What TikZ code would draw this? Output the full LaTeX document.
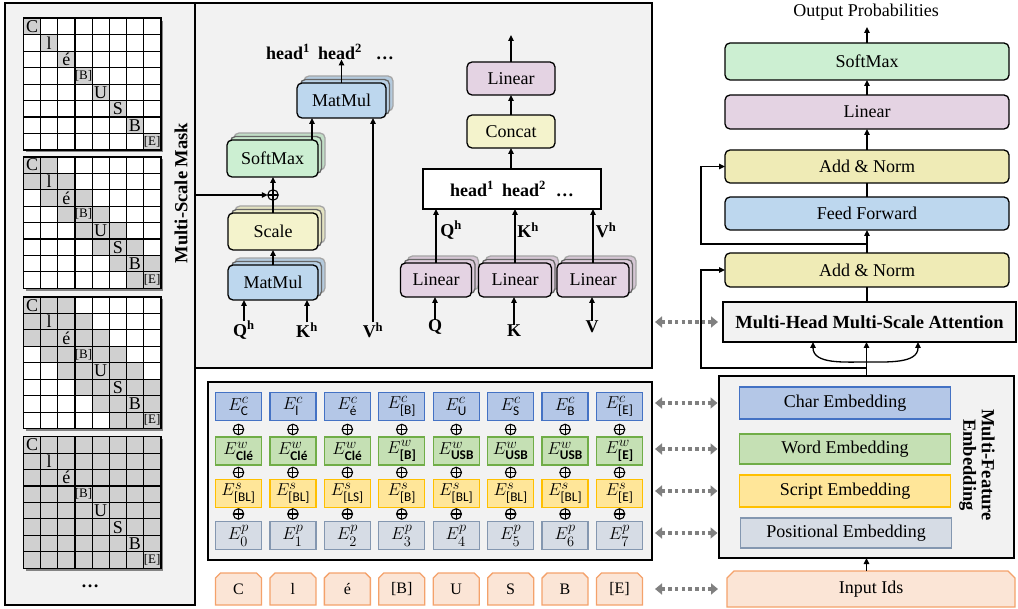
\documentclass[tikz,border=0pt]{standalone}
\usepackage{fontspec}
\usepackage{amsmath}
\setmainfont{Liberation Serif}
\newfontfamily\carl{Carlito}
\usetikzlibrary{arrows.meta,shadows,calc,backgrounds}
\newcommand\fsz[1]{\fontsize{#1}{#1}\selectfont}
\definecolor{panelbg}{HTML}{F2F2F2}
\definecolor{mmblue}{HTML}{BDD7EE}
\definecolor{smgreen}{HTML}{CCEFD2}
\definecolor{scyellow}{HTML}{F4F3CC}
\definecolor{anyellow}{HTML}{EFEBB6}
\definecolor{linpurple}{HTML}{E4D3E3}
\definecolor{charfill}{HTML}{B4C7E7}
\definecolor{charline}{HTML}{4472C4}
\definecolor{wordfill}{HTML}{C5E0B4}
\definecolor{wordline}{HTML}{70AD47}
\definecolor{scrfill}{HTML}{FFE699}
\definecolor{scrline}{HTML}{FFC000}
\definecolor{posfill}{HTML}{D6DCE5}
\definecolor{posline}{HTML}{8497B0}
\definecolor{infill}{HTML}{FBE5D6}
\definecolor{inborder}{HTML}{F4A26B}
\definecolor{maskgray}{HTML}{D0D0D0}
\definecolor{dgray}{HTML}{808080}
\newcommand\maskgrid[4]{%
  \path[fill=white,drop shadow={shadow xshift=2.5pt,shadow yshift=-2.5pt,opacity=.45,fill=black}] (#1,#2) rectangle ++(137.2,131.6);
  \foreach \gi in {0,...,7}{\foreach \gj in {0,...,7}{%
    \pgfmathtruncatemacro\mdist{abs(\gi-\gj)}%
    \ifnum\mdist>#3\relax\else\fill[maskgray] ({#1+\gj*17.15},{#2+\gi*16.45}) rectangle ++(17.15,16.45);\fi}}
  \foreach \gk in {0,...,8}{\draw[line width=1.1pt] ({#1+\gk*17.15},#2) -- ++(0,131.6) (#1,{#2+\gk*16.45}) -- ++(137.2,0);}
  \draw[line width=1.6pt] (#1,#2) rectangle ++(137.2,131.6);
  \foreach \mtxt/\msz [count=\gi from 0] in {C/18,l/18,é/18,{[B]}/13,U/18,S/18,B/18,{[E]}/13}
    \node[font=\fsz{\msz}] (#4\gi) at ({#1+\gi*17.15+8.6},{#2+\gi*16.45+8.2}) {\mtxt};
}
\newcommand\chamfbox[2]{%
  \begin{pgfonlayer}{background}
  \filldraw[draw=inborder,fill=infill,line width=1.3pt] (#1.south west) -- ([yshift=-#2]#1.north west) -- ([xshift=#2]#1.north west) -- ([xshift=-#2]#1.north east) -- ([yshift=-#2]#1.north east) -- (#1.south east) -- cycle;
  \end{pgfonlayer}}
\begin{document}
\begin{tikzpicture}[x=1pt,y=-1pt,
  every node/.style={inner sep=0pt,outer sep=0pt},
  arr/.style={-{Triangle[length=6pt,width=5.5pt]},line width=1.3pt},
  ln/.style={line width=1.3pt},
  dotarr/.style={draw=dgray,line width=3.5pt,dash pattern=on 3.5pt off 3.2pt,{Triangle[length=7pt,width=11pt]}-{Triangle[length=7pt,width=11pt]}},
  panel/.style={draw,fill=panelbg,line width=2.2pt,anchor=north west},
  rbox/.style={draw,line width=1.3pt,rounded corners=5pt,font=\fsz{18}},
  stack/.style={copy shadow={shadow xshift=7pt,shadow yshift=7pt,fill=#1!85!gray,draw=gray!70},copy shadow={shadow xshift=3.5pt,shadow yshift=3.5pt,fill=#1!93!gray,draw=gray!80!black},fill=#1},
  tbox/.style={rbox,minimum width=284pt,minimum height=#1},
  ecell/.style={draw,line width=1.2pt,minimum width=46pt,minimum height=28pt,font=\fsz{19}},
  eband/.style={draw,line width=1.3pt,minimum width=211pt,font=\fsz{18}},
  opl/.style={circle,draw,line width=1.1pt,minimum size=10.5pt,path picture={\draw[line width=1.1pt] (path picture bounding box.north)--(path picture bounding box.south) (path picture bounding box.west)--(path picture bounding box.east);}},
  lbl/.style={font=\bfseries\fsz{18}}
]
\useasboundingbox (0,0) rectangle (1018,609);
% ---------- left mask panel ----------
\node[panel,line width=2.5pt,minimum width=190pt,minimum height=602pt] (maskpanel) at (5,3) {};
\maskgrid{23.5}{18.3}{0}{ga}
\maskgrid{23.5}{156.8}{1}{gb}
\maskgrid{23.5}{297}{2}{gc}
\maskgrid{23.5}{436.7}{8}{gd}
\node[lbl,font=\bfseries\fsz{18.5},rotate=90] (msm) at (181,193) {Multi-Scale Mask};
\node[font=\bfseries\fsz{18}] (mdots) at (90,586) {\dots};
% ---------- attention panel ----------
\node[panel,minimum width=457pt,minimum height=365pt] (attn) at (195,3) {};
\node[rbox,stack=mmblue,minimum width=89pt,minimum height=35pt] (mmtop) at (341.5,100.5) {MatMul};
\node[rbox,stack=smgreen,minimum width=91pt,minimum height=37pt] (smx) at (272.5,158.5) {SoftMax};
\node[opl] (opl) at (273,195) {};
\node[rbox,stack=scyellow,minimum width=90pt,minimum height=37pt] (scale) at (273,231.5) {Scale};
\node[rbox,stack=mmblue,minimum width=90pt,minimum height=35pt] (mmbot) at (273,282.5) {MatMul};
\node[lbl] (qh1) at (244,330) {Q\textsuperscript{h}};
\node[lbl] (kh1) at (307,330) {K\textsuperscript{h}};
\node[lbl] (vh1) at (373,330) {V\textsuperscript{h}};
\node[lbl] (headt) at (330,52) {head\textsuperscript{1}\hspace{8pt}head\textsuperscript{2}\hspace{14pt}\dots};
\draw[arr] (qh1.north) -- (qh1.north |- mmbot.south);
\draw[arr] (kh1.north) -- (kh1.north |- mmbot.south);
\draw[arr] (mmbot.north) -- (scale.south);
\draw[arr] (scale.north) -- (scale.north |- smx.south);
\draw[arr] (maskpanel.east |- opl.west) -- (opl.west);
\coordinate (smout) at ($(smx.north east)+(-6,0)$);
\draw[arr] (smout) -- (smout |- mmtop.south);
\draw[arr] (vh1.north) -- (vh1.north |- mmtop.south);
\draw[arr] (mmtop.north) -- (mmtop.north |- headt.south);
% right half of attention panel
\node[rbox,fill=linpurple,minimum width=88pt,minimum height=33pt] (lintop) at (511,78.5) {Linear};
\node[rbox,fill=scyellow,minimum width=88pt,minimum height=33pt] (concat) at (511,131.5) {Concat};
\node[draw,fill=white,line width=1.4pt,minimum width=178pt,minimum height=40pt,font=\bfseries\fsz{18}] (headbox) at (512,189) {head\textsuperscript{1}\hspace{8pt}head\textsuperscript{2}\hspace{10pt}\dots};
\node[rbox,stack=linpurple,minimum width=71pt,minimum height=34pt] (linq) at (436,280) {Linear};
\node[rbox,stack=linpurple,minimum width=73pt,minimum height=34pt] (link) at (515,280) {Linear};
\node[rbox,stack=linpurple,minimum width=72pt,minimum height=34pt] (linv) at (593,280) {Linear};
\node[lbl] (qin) at (435,327) {Q};
\node[lbl] (kin) at (514,331) {K};
\node[lbl] (vin) at (592,327) {V};
\node[lbl] (qh2) at (451,230) {Q\textsuperscript{h}};
\node[lbl] (kh2) at (528,230) {K\textsuperscript{h}};
\node[lbl] (vh2) at (606,230) {V\textsuperscript{h}};
\draw[arr] (qin.north) -- (qin.north |- linq.south);
\draw[arr] (kin.north) -- (kin.north |- link.south);
\draw[arr] (vin.north) -- (vin.north |- linv.south);
\draw[arr] (linq.north) -- (linq.north |- headbox.south);
\draw[arr] (link.north) -- (link.north |- headbox.south);
\draw[arr] (linv.north) -- (linv.north |- headbox.south);
\draw[arr] (headbox.north -| concat.south) -- (concat.south);
\draw[arr] (concat.north) -- (lintop.south);
\coordinate (linout) at (511,35);
\draw[arr] (lintop.north) -- (linout);
% ---------- transformer column ----------
\node[font=\fsz{18}] (outp) at (866,12) {Output Probabilities};
\node[tbox=37pt,fill=smgreen] (sm2) at (867,61.5) {SoftMax};
\node[tbox=34pt,fill=linpurple] (lin2) at (867,112) {Linear};
\node[tbox=33pt,fill=anyellow] (an1) at (867,166.5) {Add \& Norm};
\node[tbox=33pt,fill=mmblue] (ff) at (867,213.5) {Feed Forward};
\node[tbox=34pt,fill=anyellow] (an2) at (867,270) {Add \& Norm};
\node[draw,fill=panelbg,line width=1.5pt,minimum width=293pt,minimum height=40pt,font=\bfseries\fsz{18.5}] (mhmsa) at (869.5,322) {Multi-Head Multi-Scale Attention};
\coordinate (outtip) at (867,27);
\draw[arr] (sm2.north) -- (outtip);
\draw[arr] (lin2.north) -- (sm2.south);
\draw[arr] (an1.north) -- (lin2.south);
\draw[ln] (ff.north) -- (an1.south);
\draw[arr] (an2.north) -- (ff.south);
\draw[ln] (an2.south |- mhmsa.north) -- (an2.south);
\coordinate (rx) at (701,0);
\coordinate (res1) at (867,244);
\draw[arr] (res1) -- (res1 -| rx) |- (an1.west);
% ---------- embedding box ----------
\node[panel,line width=2pt,minimum width=295pt,minimum height=182pt] (emb) at (719,376) {};
\node[eband,fill=charfill,draw=charline,minimum height=32pt] (chr) at (845,403) {Char Embedding};
\node[eband,fill=wordfill,draw=wordline,minimum height=30pt] (wrd) at (845,449) {Word Embedding};
\node[eband,fill=scrfill,draw=scrline,minimum height=32pt] (scr) at (845,491) {Script Embedding};
\node[eband,fill=posfill,draw=posline,minimum height=30pt] (pse) at (846,533) {Positional Embedding};
\node[lbl,font=\bfseries\fsz{18.5},rotate=-90,align=center] (mfe) at (977,465) {Multi-Feature\\Embedding};
\coordinate (res2) at (866.5,368);
\draw[arr] (emb.north) -- (emb.north |- mhmsa.south);
\draw[arr] (res2) -- (res2 -| rx) |- (an2.west);
\coordinate (cbr) at (866.5,362);
\coordinate (cl) at ($(mhmsa.south)+(-56.5,0)$);
\coordinate (cr) at ($(mhmsa.south)+(48.5,0)$);
\draw[arr] (cbr) to[out=180,in=-90] (cl);
\draw[arr] (cbr) to[out=0,in=-90] (cr);
\node[minimum width=288pt,minimum height=36pt,font=\fsz{18}] (inids) at (871,589) {Input Ids};
\chamfbox{inids}{7pt}
\draw[arr] (emb.south |- inids.north) -- (emb.south);
% ---------- embedding grid ----------
\node[panel,line width=2.5pt,minimum width=444pt,minimum height=178pt] (egrid) at (208,382) {};
\foreach \xch/\xwd/\xsc [count=\gi from 0] in {C/Clé/BL, l/Clé/BL, é/Clé/LS, {[B]}/{[B]}/B, U/USB/BL, S/USB/BL, B/USB/BL, {[E]}/{[E]}/E}{
  \pgfmathsetmacro\gx{238.5+\gi*54.43}
  \node[ecell,fill=charfill,draw=charline] (ec\gi) at (\gx,406.5) {$E^{c}_{\text{\carl \xch}}$};
  \node[opl] (oa\gi) at (\gx,429.5) {};
  \node[ecell,fill=wordfill,draw=wordline] (ew\gi) at (\gx,451) {$E^{w}_{\text{\carl\bfseries \xwd}}$};
  \node[opl] (ob\gi) at (\gx,472.5) {};
  \node[ecell,fill=scrfill,draw=scrline] (es\gi) at (\gx,493.5) {$E^{s}_{\text{\carl [\xsc]}}$};
  \node[opl] (oc\gi) at (\gx,514) {};
  \node[ecell,fill=posfill,draw=posline] (ep\gi) at (\gx,535.5) {$E^{p}_{\gi}$};
  \node[minimum width=46pt,minimum height=32pt,font=\fsz{16}] (in\gi) at (\gx,589) {\xch};
  \chamfbox{in\gi}{5pt}
}
% ---------- dotted links ----------
\draw[dotarr,shorten <=3pt,shorten >=5pt] (attn.east |- mhmsa.west) -- (mhmsa.west);
\foreach \bnd in {chr,wrd,scr,pse}
  \draw[dotarr,shorten <=3pt,shorten >=1.5pt] (egrid.east |- \bnd.west) -- (emb.west |- \bnd.west);
\draw[dotarr,shorten <=3pt,shorten >=9pt] (egrid.east |- inids.west) -- (inids.west);
\end{tikzpicture}
\end{document}
